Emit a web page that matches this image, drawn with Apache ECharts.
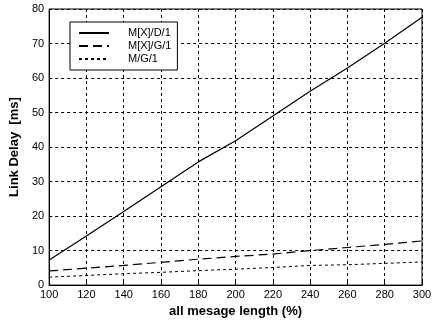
<!DOCTYPE html>
<html><head><meta charset="utf-8">
<script src="https://cdn.jsdelivr.net/npm/echarts@6/dist/echarts.min.js"></script>
<style>html,body{margin:0;padding:0;background:#fff}#c{width:438px;height:323px}</style>
</head><body><div id="c"></div>
<script>
const xValues = [100,120,140,160,180,200,220,240,260,280,300];
const mxd1 = [7.3,14.2,21.3,28.5,35.7,41.8,49.0,56.2,62.9,70.1,77.6];
const mxg1 = [4.1,4.9,5.7,6.6,7.5,8.3,9.0,10.0,10.9,11.8,12.8];
const mg1 = [2.3,2.8,3.3,3.7,4.2,4.6,5.1,5.7,5.9,6.3,6.7];
const seriesNames = ['M[X]/D/1','M[X]/G/1','M/G/1'];
const xTitle = 'all mesage length (%)';
const yTitle = 'Link Delay  [ms]';

const font = 'Liberation Sans, Arial, sans-serif';
function pairs(arr){ return xValues.map((x,i)=>[x,arr[i]]); }
const chart = echarts.init(document.getElementById('c'), null, {renderer:'canvas'});
chart.setOption({
  animation:false,
  backgroundColor:'#fff',
  grid:{left:48,right:16,top:9,bottom:36,show:true,borderColor:'#000',borderWidth:1},
  legend:{
    orient:'vertical', left:70, top:22,
    padding:[5,6,5,8], itemGap:1,
    itemWidth:30, itemHeight:10,
    backgroundColor:'#fff', borderColor:'#000', borderWidth:1,
    itemStyle:{opacity:0},
    textStyle:{fontFamily:font,fontSize:11,color:'#000',padding:[0,0,0,14],lineHeight:12},
    data:seriesNames
  },
  xAxis:{
    type:'value', min:100, max:300, interval:20,
    name:xTitle, nameLocation:'middle', nameGap:17,
    nameTextStyle:{fontFamily:font,fontSize:13,fontWeight:'bold',color:'#000'},
    axisLine:{show:true,lineStyle:{color:'#000',width:1}},
    axisTick:{show:true,inside:true,length:3,lineStyle:{color:'#000'}},
    axisLabel:{fontFamily:font,fontSize:11,color:'#000',margin:4},
    splitLine:{show:true,lineStyle:{color:'#000',type:[3,3],width:1}}
  },
  yAxis:{
    type:'value', min:0, max:80, interval:10,
    name:yTitle, nameLocation:'middle', nameGap:24,
    nameTextStyle:{fontFamily:font,fontSize:13,fontWeight:'bold',color:'#000'},
    axisLine:{show:true,lineStyle:{color:'#000',width:1}},
    axisTick:{show:true,inside:true,length:3,lineStyle:{color:'#000'}},
    axisLabel:{fontFamily:font,fontSize:11,color:'#000',margin:5},
    splitLine:{show:true,lineStyle:{color:'#000',type:[3,3],width:1}}
  },
  series:[
    {name:seriesNames[0],type:'line',data:pairs(mxd1),symbol:'none',lineStyle:{color:'#000',width:1.2,type:'solid'},itemStyle:{color:'#000'}},
    {name:seriesNames[1],type:'line',data:pairs(mxg1),symbol:'none',lineStyle:{color:'#000',width:1.2,type:[9,5]},itemStyle:{color:'#000'}},
    {name:seriesNames[2],type:'line',data:pairs(mg1),symbol:'none',lineStyle:{color:'#000',width:1,type:[3,3]},itemStyle:{color:'#000'}}
  ]
});
</script></body></html>
